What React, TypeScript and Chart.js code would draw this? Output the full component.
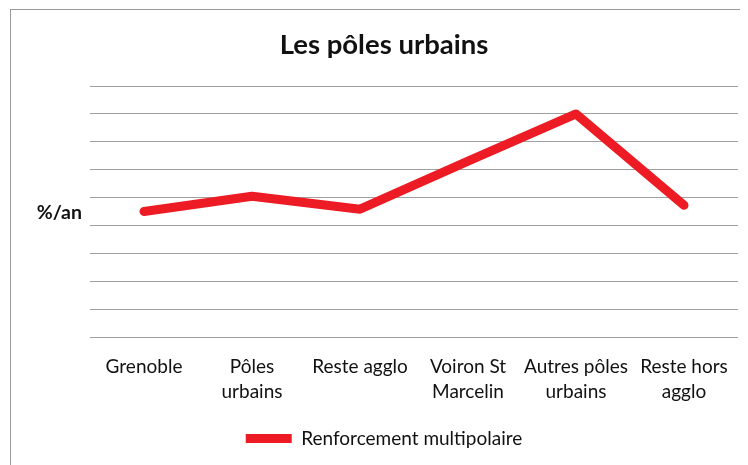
import React, { useEffect, useRef } from "react";
import { Chart, registerables } from "chart.js";

Chart.register(...registerables);

const TITLE = "Les pôles urbains";
const Y_LABEL = "%/an";
const SERIES_NAME = "Renforcement multipolaire";
const categories: string[][] = [
  ["Grenoble"],
  ["Pôles", "urbains"],
  ["Reste agglo"],
  ["Voiron St", "Marcelin"],
  ["Autres pôles", "urbains"],
  ["Reste hors", "agglo"],
];
const values: number[] = [4.52, 5.06, 4.6, 6.32, 8.0, 4.74];
const Y_MIN = 0;
const Y_MAX = 9;
const Y_STEP = 1;

const FONT = "Lato, 'Open Sans', sans-serif";
const RED = "#ED1C24";

const yLabelPlugin = {
  id: "yLabel",
  afterDraw(chart: any) {
    const { ctx, chartArea } = chart;
    ctx.save();
    ctx.font = `bold 19.5px ${FONT}`;
    ctx.fillStyle = "#111";
    ctx.textAlign = "right";
    ctx.textBaseline = "middle";
    ctx.fillText(Y_LABEL, chartArea.left - 8, (chartArea.top + chartArea.bottom) / 2 + 1);
    ctx.restore();
  },
};

export default function App() {
  const ref = useRef<HTMLCanvasElement>(null);
  useEffect(() => {
    document.body.style.overflow = "hidden";
    document.documentElement.style.overflow = "hidden";
    const chart = new Chart(ref.current!, {
      type: "line",
      data: {
        labels: categories,
        datasets: [
          {
            label: SERIES_NAME,
            data: values,
            borderColor: RED,
            backgroundColor: RED,
            borderWidth: 9,
            borderCapStyle: "round",
            borderJoinStyle: "round",
            pointRadius: 0,
            pointHoverRadius: 0,
            tension: 0,
            fill: false,
          },
        ],
      },
      options: {
        responsive: false,
        animation: false,
        devicePixelRatio: 1,
        layout: { padding: { left: 19, right: 10, top: 0, bottom: 0 } },
        plugins: {
          tooltip: { enabled: false },
          title: {
            display: true,
            text: TITLE,
            color: "#111",
            font: { family: FONT, size: 27.5, weight: "bold", lineHeight: 1.2 },
            padding: { top: 19, bottom: 24 },
          },
          legend: {
            display: true,
            position: "bottom",
            labels: {
              color: "#111",
              font: { family: FONT, size: 19 },
              usePointStyle: true,
              pointStyle: "line",
              pointStyleWidth: 46,
              padding: 9,
            },
          },
        },
        scales: {
          x: {
            offset: true,
            grid: { display: false, drawTicks: false },
            border: { display: false },
            ticks: {
              color: "#111",
              font: { family: FONT, size: 19, lineHeight: 1.316 },
              padding: 16,
              maxRotation: 0,
              autoSkip: false,
            },
          },
          y: {
            min: Y_MIN,
            max: Y_MAX,
            grid: { color: "#A0A0A0", lineWidth: 1, drawTicks: false },
            border: { display: false },
            ticks: { display: false, stepSize: Y_STEP },
            afterFit(scale: any) {
              scale.width = 60;
            },
          },
        },
      },
      plugins: [yLabelPlugin],
    });
    return () => chart.destroy();
  }, []);
  return (
    <div
      style={{
        position: "relative",
        left: 2,
        top: 1,
        width: 737,
        height: 470,
        borderLeft: "1px solid #9a9a9a",
        borderTop: "1px solid #9a9a9a",
      }}
    >
      <canvas ref={ref} width={737} height={448} style={{ display: "block" }} />
    </div>
  );
}
